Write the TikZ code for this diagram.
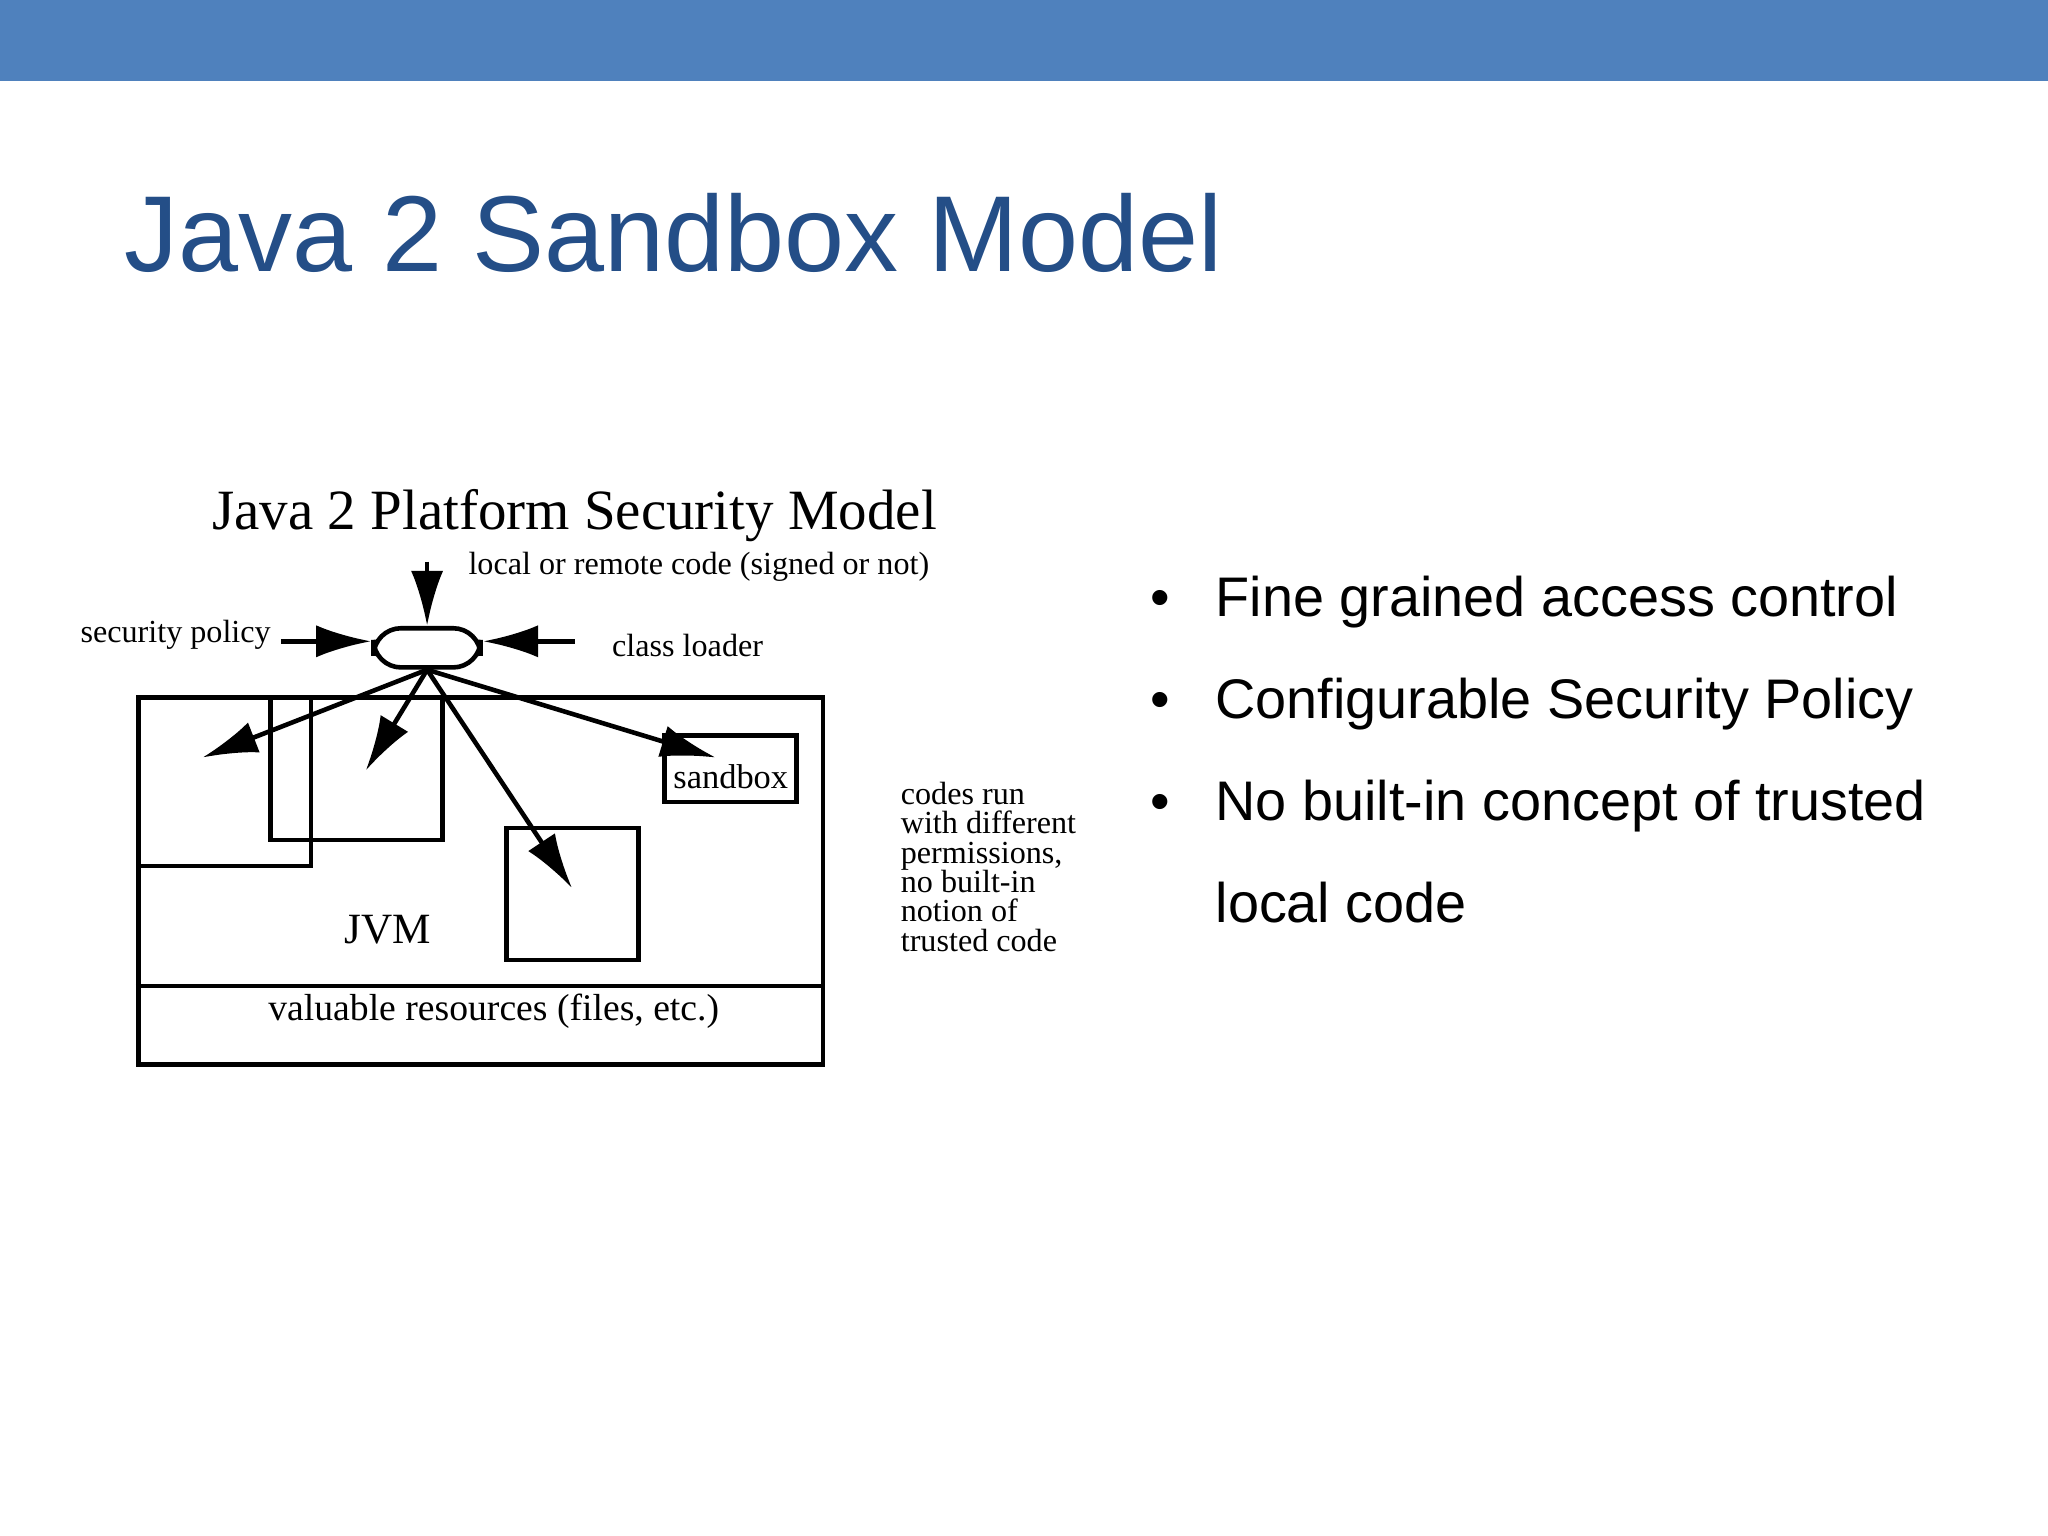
\documentclass[tikz,border=0pt]{standalone}
\usepackage{fontspec}
\setmainfont{Liberation Sans}
\newfontfamily\diafont{Liberation Serif}
\usepackage{xcolor}
\usetikzlibrary{arrows.meta,positioning,calc}
\definecolor{barblue}{RGB}{79,129,189}
\definecolor{titleblue}{RGB}{36,78,135}

\begin{document}
\begin{tikzpicture}[
    x=0.01cm, y=-0.01cm,
    box/.style={draw, line width=1pt},
    arr/.style={-{Latex[length=12pt,width=7pt]}, line width=1pt},
    small/.style={font=\diafont\fontsize{7}{8}\selectfont, inner sep=0pt},
    bullet/.style={anchor=base west, font=\fontsize{12.15}{14}\selectfont, inner sep=0pt}
]
\useasboundingbox (0,0) rectangle (1568,1176);
\fill[barblue] (0,0) rectangle (1568,62);
\node[anchor=base west, inner sep=0pt, text=titleblue, font=\fontsize{23.5}{28}\selectfont] (title) at (95,208) {Java 2 Sandbox Model};

% diagram
\node[inner sep=0pt, font=\diafont\fontsize{12.4}{15}\selectfont] (dtitle) at (440,395) {Java 2 Platform Security Model};
\node[box, rectangle, rounded corners=6pt, minimum width=0.82cm, minimum height=0.30cm, inner sep=0pt] (core) at (327,496) {};
\coordinate (top) at (327,430);
\coordinate (left) at (215,491);
\coordinate (right) at (440,491);
\draw[arr] (top) -- (core.north);
\draw[arr] (left) -- (left -| core.west);
\draw[arr] (right) -- (right -| core.east);
\node[small, anchor=west] (code) at (358,434) {local or remote code (signed or not)};
\node[small, anchor=east] (policy) at (208,486) {security policy};
\node[small, anchor=west] (loader) at (468,494) {class loader};

\draw[box] (106,534) rectangle (630,815);
\draw[box] (104,755) -- (630,755);
\draw[box] (106,534) rectangle (238,663);
\draw[box] (207,534) rectangle (339,643);
\draw[box] (388,634) rectangle (489,735);
\node[box, minimum width=1.01cm, minimum height=0.51cm, inner sep=0pt] (sandbox) at (559.5,588.5) {};
\node[small, font=\diafont\fontsize{7.5}{9}\selectfont] (sblabel) at (559.5,595) {sandbox};
\coordinate (t1) at (155,580);
\coordinate (t2) at (280,590);
\coordinate (t3) at (438,680);
\coordinate (t4) at (548,580);
\foreach \t in {t1,t2,t3,t4}
  \draw[arr] (core.south) -- (\t);
\node[small, font=\diafont\fontsize{9.4}{11}\selectfont] (jvm) at (297,712) {JVM};
\node[small, font=\diafont\fontsize{8.2}{10}\selectfont] (res) at (378,774) {valuable resources (files, etc.)};
\node[small, anchor=north west, align=left, font=\diafont\fontsize{7}{6.4}\selectfont] (note) at (689,598)
  {codes run\\with different\\permissions,\\no built-in\\notion of\\trusted code};

% bullets
\foreach \yy/\txt in {472/Fine grained access control, 550/Configurable Security Policy, 628/No built-in concept of trusted}
  \node[bullet] at (930,\yy) {\txt};
\foreach \yy in {472,550,628}
  \node[bullet] at (880,\yy) {\textbullet};
\node[bullet] (last) at (930,706) {local code};
\end{tikzpicture}
\end{document}
